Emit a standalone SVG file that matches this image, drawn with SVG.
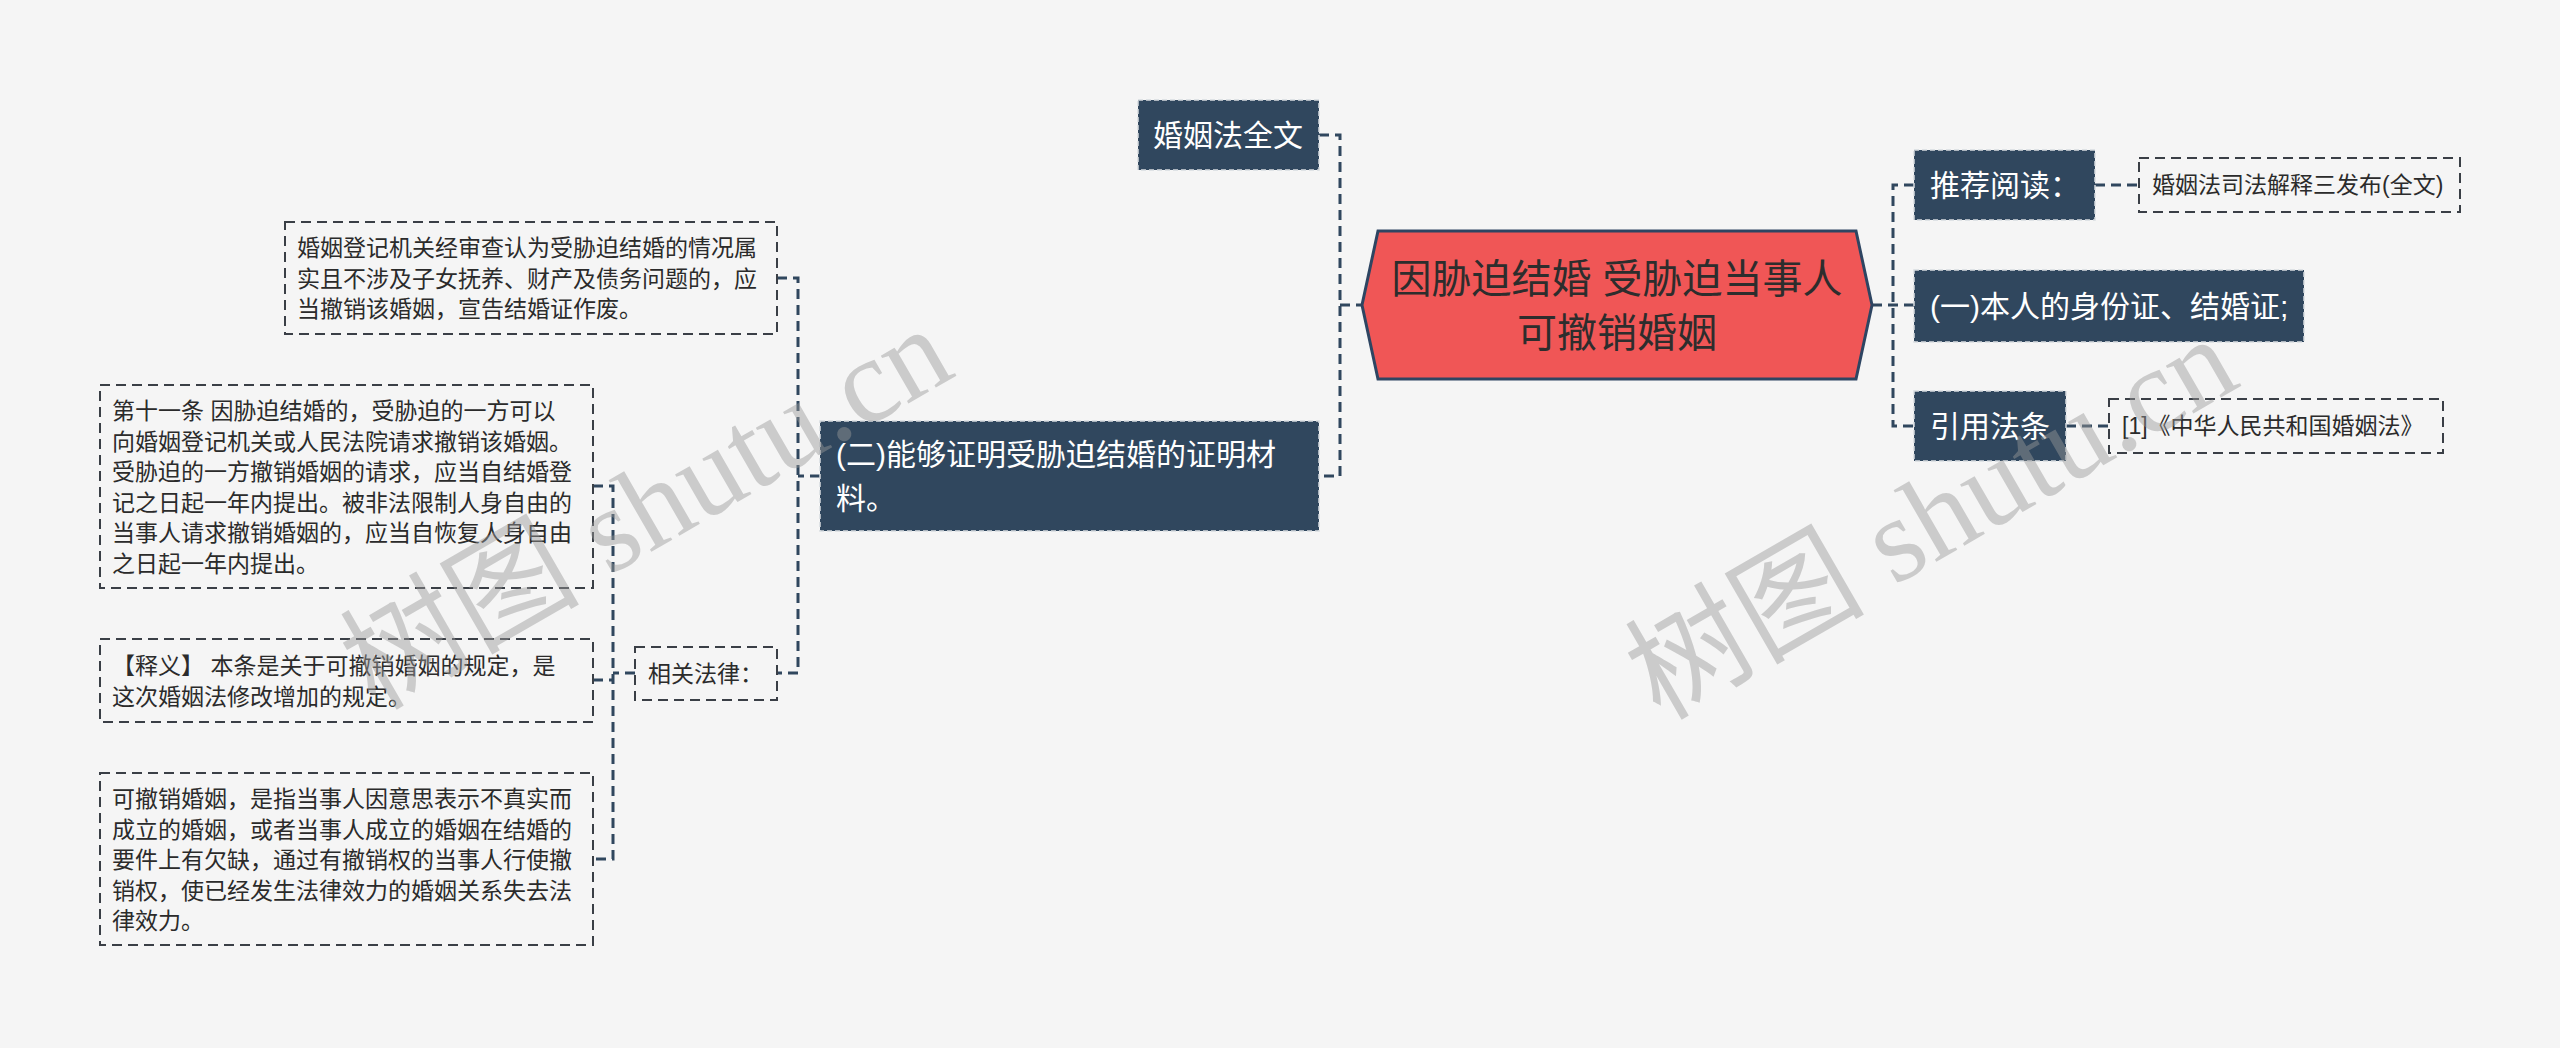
<svg xmlns="http://www.w3.org/2000/svg" width="2560" height="1048" viewBox="0 0 2560 1048">
<style>
.bg{fill:#f5f5f5}
.conn{fill:none;stroke:#30475e;stroke-width:3;stroke-dasharray:10 6}
.dark rect{fill:#30475e;stroke:#d6dbe0;stroke-width:1.5;stroke-dasharray:5 3}
.dark text{fill:#ffffff;font-size:30px}
.note rect{fill:#f5f5f5;stroke:#3a3f46;stroke-width:2;stroke-dasharray:10 6}
.note text{fill:#2b2b2b;font-size:23px}
text{font-family:"Liberation Sans","Noto Sans CJK SC",sans-serif}
.wm{font-family:"Liberation Serif","Noto Sans CJK SC",serif;font-size:120px;fill:#999999;opacity:0.45}
</style>
<rect class="bg" x="0" y="0" width="2560" height="1048"/>

<g id="connectors">
<path class="conn" d="M1872 305 H1914"/>
<path class="conn" d="M1914 185 H1893 V426 H1914"/>
<path class="conn" d="M2095 185 H2139"/>
<path class="conn" d="M2066 426 H2109"/>
<path class="conn" d="M1319 135 H1340 V476 H1319"/>
<path class="conn" d="M1340 305 H1362"/>
<path class="conn" d="M820 476 H798"/>
<path class="conn" d="M777 278 H798 V673 H777"/>
<path class="conn" d="M635 673 H613"/>
<path class="conn" d="M593 486 H613 V859 H593"/>
<path class="conn" d="M593 680 H613"/>
</g>

<g id="root">
<polygon points="1362,305 1378,231 1856,231 1872,305 1856,379 1378,379" fill="#f05656" stroke="#2e4562" stroke-width="3"/>
<text x="1617" y="293" text-anchor="middle" font-size="40" fill="#2d2d2d">因胁迫结婚 受胁迫当事人</text>
<text x="1617" y="347" text-anchor="middle" font-size="40" fill="#2d2d2d">可撤销婚姻</text>
</g>

<g id="n-quanwen" class="dark">
<rect x="1138" y="100" width="181" height="70"/>
<text x="1153" y="146">婚姻法全文</text>
</g>

<g id="n-tuijian" class="dark">
<rect x="1914" y="150" width="181" height="70"/>
<text x="1930" y="196">推荐阅读：</text>
</g>

<g id="n-jieshi" class="note">
<rect x="2139" y="158" width="321" height="54"/>
<text x="2152" y="193">婚姻法司法解释三发布(全文)</text>
</g>

<g id="n-yi" class="dark">
<rect x="1914" y="270" width="390" height="72"/>
<text x="1930" y="317">(一)本人的身份证、结婚证;</text>
</g>

<g id="n-yinyong" class="dark">
<rect x="1914" y="391" width="152" height="70"/>
<text x="1930" y="437">引用法条</text>
</g>

<g id="n-hunyinfa" class="note">
<rect x="2109" y="399" width="334" height="54"/>
<text x="2122" y="434">[1]《中华人民共和国婚姻法》</text>
</g>

<g id="n-er" class="dark">
<rect x="820" y="421" width="499" height="110"/>
<text x="836" y="465">(二)能够证明受胁迫结婚的证明材</text>
<text x="836" y="509">料。</text>
</g>

<g id="n-dengji" class="note">
<rect x="285" y="222" width="492" height="112"/>
<text x="297" y="256">婚姻登记机关经审查认为受胁迫结婚的情况属</text>
<text x="297" y="287">实且不涉及子女抚养、财产及债务问题的，应</text>
<text x="297" y="317">当撤销该婚姻，宣告结婚证作废。</text>
</g>

<g id="n-xiangguan" class="note">
<rect x="635" y="647" width="142" height="53"/>
<text x="648" y="682">相关法律：</text>
</g>

<g id="n-tiao11" class="note">
<rect x="100" y="385" width="493" height="203"/>
<text x="112" y="419">第十一条 因胁迫结婚的，受胁迫的一方可以</text>
<text x="112" y="449.5">向婚姻登记机关或人民法院请求撤销该婚姻。</text>
<text x="112" y="480">受胁迫的一方撤销婚姻的请求，应当自结婚登</text>
<text x="112" y="510.5">记之日起一年内提出。被非法限制人身自由的</text>
<text x="112" y="541">当事人请求撤销婚姻的，应当自恢复人身自由</text>
<text x="112" y="571.5">之日起一年内提出。</text>
</g>

<g id="n-shiyi" class="note">
<rect x="100" y="639" width="493" height="83"/>
<text x="112" y="674">【释义】 本条是关于可撤销婚姻的规定，是</text>
<text x="112" y="704.5">这次婚姻法修改增加的规定。</text>
</g>

<g id="n-kechexiao" class="note">
<rect x="100" y="773" width="493" height="172"/>
<text x="112" y="807">可撤销婚姻，是指当事人因意思表示不真实而</text>
<text x="112" y="837.5">成立的婚姻，或者当事人成立的婚姻在结婚的</text>
<text x="112" y="868">要件上有欠缺，通过有撤销权的当事人行使撤</text>
<text x="112" y="898.5">销权，使已经发生法律效力的婚姻关系失去法</text>
<text x="112" y="929">律效力。</text>
</g>

<g id="watermarks">
<text class="wm" x="648" y="548" text-anchor="middle" transform="rotate(-30 648 511)">树图 shutu.cn</text>
<text class="wm" x="1933" y="558" text-anchor="middle" transform="rotate(-30 1933 521)">树图 shutu.cn</text>
</g>
</svg>
